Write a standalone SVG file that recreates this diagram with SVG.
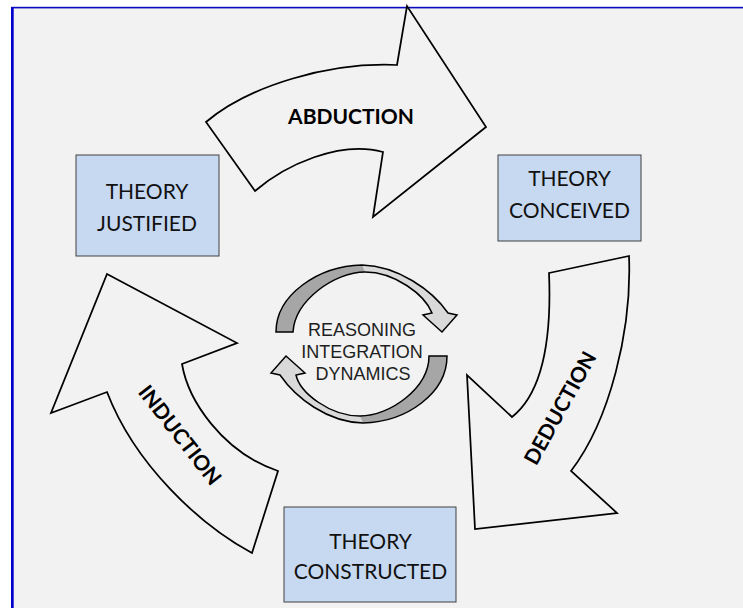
<svg xmlns="http://www.w3.org/2000/svg" width="743" height="608" viewBox="0 0 743 608">
<style>
.box{fill:#c6d9f1;stroke:#404040;stroke-width:1}
.bt{font-family:Lato,"Liberation Sans",sans-serif;font-size:21px;fill:#111;text-anchor:middle}
.arr{fill:#f2f2f2;stroke:#000;stroke-width:1.75;stroke-linejoin:miter}
.al{font-family:Lato,"Liberation Sans",sans-serif;font-weight:bold;font-size:21px;fill:#000;text-anchor:middle}
.ct{font-family:"Liberation Sans",Arial,sans-serif;font-size:18px;fill:#1e1e1e;text-anchor:middle}
.lt{fill:#d9d9d9}
.dk{fill:#a6a6a6}
.ol{fill:none;stroke:#000;stroke-width:1.5;stroke-linejoin:miter}
</style>
<defs>
<path id="topFull" d="M276,332 C276,295 318,266 362,265 C398,266 432,290 448,313 L457,315 L442,332 L423,315 L432,313 C425,295 395,272 365,272 C335,272 295,300 293,332 Z"/>
<path id="topDark" d="M276,332 C276,295 318,266 362,265 L365,272 C335,272 295,300 293,332 Z"/>
<path id="botFull" d="M447,356 C447,393 407,422 363,423 C327,422 296,398 280,375 L271,373 L286,356 L305,373 L296,375 C300,393 330,416 360,416 C390,416 429,388 429,356 Z"/>
<path id="botDark" d="M447,356 C447,393 407,422 363,423 L360,416 C390,416 429,388 429,356 Z"/>
</defs>
<rect x="0" y="0" width="743" height="608" fill="#ffffff"/>
<rect x="13" y="8" width="730" height="600" fill="#f2f2f2"/>
<rect x="11" y="7" width="2.7" height="601" fill="#0000cc"/>
<rect x="11" y="6.8" width="732" height="1.6" fill="#0a0ac0"/>

<g id="connectors">
  <g id="edge-abduction">
    <path class="arr" d="M206,122 C250,85 330,62 397,65 L407,6 L486,127 L373,217 L383,152 C340,140 285,165 255,191 Z"/>
    <text class="al" x="351" y="124">ABDUCTION</text>
  </g>
  <g id="edge-deduction">
    <path class="arr" d="M549,273 L629,256 C632,330 610,420 571,471 L617,513 L475,529 L467,375 L512,417 C540,395 552,345 549,273 Z"/>
    <text class="al" transform="translate(560,408) rotate(-61)" x="0" y="7.5">DEDUCTION</text>
  </g>
  <g id="edge-induction">
    <path class="arr" d="M107,274 L237,343 L182,364 C188,400 222,452 278,471 L252,553 C200,525 135,465 107,392 L51,413 Z"/>
    <text class="al" transform="translate(180,435) rotate(52)" x="0" y="7.5">INDUCTION</text>
  </g>
</g>

<g id="node-justified">
  <rect class="box" x="76" y="155" width="143" height="101"/>
  <text class="bt" x="147" y="199">THEORY</text>
  <text class="bt" x="147" y="231">JUSTIFIED</text>
</g>
<g id="node-conceived">
  <rect class="box" x="498" y="155" width="143" height="86"/>
  <text class="bt" x="569.5" y="186">THEORY</text>
  <text class="bt" x="569.5" y="218">CONCEIVED</text>
</g>
<g id="node-constructed">
  <rect class="box" x="284" y="507" width="172" height="95"/>
  <text class="bt" x="370.5" y="549">THEORY</text>
  <text class="bt" x="370.5" y="579">CONSTRUCTED</text>
</g>

<g id="node-reasoning">
  <g id="cycle-top">
    <use href="#topFull" class="lt"/>
    <use href="#topDark" class="dk"/>
    <use href="#topFull" class="ol"/>
  </g>
  <g id="cycle-bottom">
    <use href="#botFull" class="lt"/>
    <use href="#botDark" class="dk"/>
    <use href="#botFull" class="ol"/>
  </g>
  <text class="ct" x="362" y="336">REASONING</text>
  <text class="ct" x="362" y="358">INTEGRATION</text>
  <text class="ct" x="363" y="380">DYNAMICS</text>
</g>
</svg>
